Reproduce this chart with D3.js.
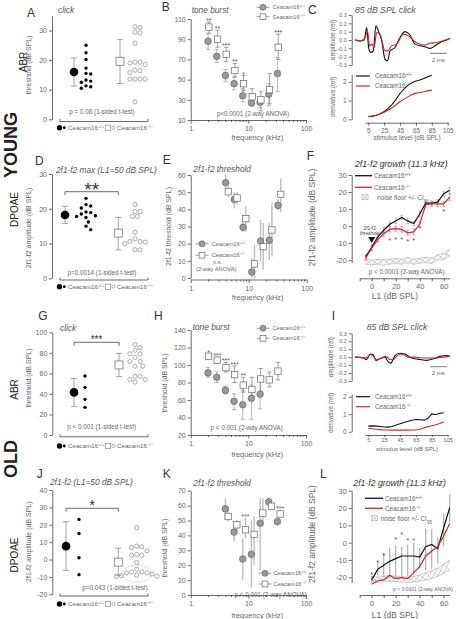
<!DOCTYPE html>
<html><head><meta charset="utf-8">
<script src="https://cdn.jsdelivr.net/npm/d3@7"></script>
<style>body{margin:0;background:#fff}svg{display:block}</style>
</head><body><svg id="c" width="456" height="619"></svg>
<script>
// ================= DATA =================
// A: young ABR click thresholds (dB SPL)
const A_wt = [25,22.5,20.2,17.3,15.5,15.3,13.3,12.9,12.5,11.3,11,10.5];
const A_ko = [31.3,31,29.4,29.2,25.7,19.3,19.3,19,18.5,16.6,16.4,15.8,13.6,13.6,13.6,13.6,5.9];
const A_mean = [16.0,19.6], A_lo = [11.2,12.1], A_hi = [20.7,27.0];
// D: young DPOAE max amplitude
const D_wt = [23,21.2,20.8,20.2,19.1,18.9,18.5,18,17.8,17.5,16.2,15,14];
const D_ko = [21.2,19.2,19.2,17.8,17.8,13.2,11.4,10.6,10.6,10.4,10.0,8.2,8.2];
const D_mean = [18.2,13.0], D_lo = [15.8,8.2], D_hi = [20.7,17.5];
// G: old ABR click thresholds
const G_wt = [57.5,46.4,34.7,26.9];
const G_ko = [88,85,82.5,79,79,75.5,71.5,71.5,67,67,57,57,54,54,51.5];
const G_mean = [41.5,68.2], G_lo = [27.6,56.8], G_hi = [54.9,79.5];
// J: old DPOAE amplitude
const J_wt = [23.1,15,1,-8.7];
const J_ko = [18.3,7.7,7.3,6.9,5,2.9,2.5,2.5,-1.7,-5.6,-7.1,-7.1,-7.7,-7.7,-8.3,-9.3,-9.6,-9.6,-9.0];
const J_mean = [7.7,-1.5], J_lo = [-6.2,-9.0], J_hi = [21.7,6.5];

// B / H: tone-burst ABR thresholds
const TB_freq = [2,2.83,4,5.66,8,11.3,16,22.6,32];
const B_wt = [88,73,54,46,34,27,27.5,35.5,56];
const B_wt_lo = [80,67,48,40,28,24,22,24,38];
const B_wt_hi = [95,80,60,52,41,30,32,46,72];
const B_ko = [102,90,75,59,46,33,30,40,82];
const B_ko_lo = [96,82,68,53,39,24,19,26,70];
const B_ko_hi = [107,99,82,66,54,41,38,56,95];
const B_sig = ["**","**","***","**","*","","","","***"];
const H_wt = [91,86,71,58.5,54.5,62,66.5];
const H_wt_lo = [86,80,67,49,38,38,50];
const H_wt_hi = [97,92,76,67,71,77,84];
const H_ko = [110,105.5,97,89,77,72,84,83,93];
const H_ko_lo = [107,102,92,80,69,64,70,75,83];
const H_ko_hi = [113,109,103,99,86,86,96,92,103];
const H_sig = ["*","***","***","***","**","","","",""];

// E / K: DPOAE thresholds
const DP_freq = [4,5.66,8,11.3,16,22.6,32];
const E_wt = [55.5,45.8,29.5,3.5,21.5,22,42.3];
const E_wt_lo = [52,40.5,27,0,9.5,10.5,39.5];
const E_wt_hi = [60,50,32.5,11.5,34,32,46];
const E_ko = [50.3,46.6,34.6,8.2,18.3,28,48.7];
const E_ko_lo = [47,43,27,0,5,12.5,38.5];
const E_ko_hi = [53.5,50,42,19.5,32,43.5,58];
const K_wt = [57.8,42.2,24.2,27.3,48.2,62.5,49.3];
const K_wt_lo = [51,36,10,5,17,59.5,46.5];
const K_wt_hi = [65,48,38,50,65,65.5,52];
const K_ko = [52.7,47.1,43.8,40.7,55,59.6,54.4];
const K_ko_lo = [49.5,43.5,38,20,46,57.5,52];
const K_ko_hi = [56,50.5,52,53,65,61.5,57];
const K_sig = ["","","***","","","","***"];

// C / I: click waveforms (time ms, amplitude rel) and derivative vs level
const C_tW = [0,0.6,1.1,1.4,1.65,1.9,2.2,2.5,2.85,3.2,3.6,3.9,4.2,4.8,5.4,6.0,6.6,7.2,7.8,8.4,9.0,9.6,10.2,11.0,11.4];
const C_vW = [0,-0.01,0,0.15,-0.1,-0.15,-0.13,0.17,0.1,-0.01,-0.23,-0.25,-0.13,-0.09,0.03,0.1,0.06,-0.05,-0.07,-0.08,-0.1,-0.07,-0.03,0,0.02];
const C_tK = [0,0.6,1.2,1.5,1.75,2.0,2.3,2.6,3.0,3.6,3.9,4.4,5.0,5.8,6.4,7.2,7.8,8.4,9.0,9.8,10.6,11.4];
const C_vK = [0,-0.01,0.02,0.11,-0.07,-0.05,-0.09,0.09,0.07,-0.13,-0.13,-0.07,-0.05,0.07,0.05,-0.02,-0.05,-0.06,-0.04,-0.03,-0.01,0.02];
const C_lvl = [5,10,15,20,25,30,35,40,45,50,55,60,65,70,75,80,85];
const C_dW = [0.15,0.17,0.22,0.3,0.42,0.58,0.8,1.08,1.38,1.62,1.83,1.96,2.05,2.1,2.18,2.28,2.36];
const C_dK = [0.15,0.17,0.21,0.28,0.38,0.5,0.62,0.78,0.95,1.08,1.2,1.32,1.4,1.43,1.47,1.52,1.56];
const I_tW = [0,1.0,1.4,1.8,2.2,2.5,3.0,3.6,4.0,4.3,4.8,5.4,6.0,6.6,7.2,7.8,8.6,9.4,10.2,11.0,11.4];
const I_vW = [0,-0.01,-0.03,0.04,0.03,-0.04,-0.02,0,-0.06,-0.075,0.02,0.05,0.04,0,-0.02,-0.03,-0.04,-0.02,0.01,0.02,0.01];
const I_tK = [0,1.4,1.8,2.2,2.6,3.2,3.7,4.2,4.6,5.2,5.8,6.4,7.2,8.0,8.8,9.6,10.6,11.4];
const I_vK = [0,-0.01,0.03,0.01,-0.03,-0.01,0.01,-0.03,-0.03,0.03,0.03,0,0,-0.01,-0.01,-0.01,0,0.01];
const I_lvl = [5,10,15,20,25,30,35,40,45,50,55,60,65,70,75,80,85,90,95,100];
const I_dW = [0.32,0.33,0.32,0.3,0.27,0.26,0.3,0.38,0.45,0.52,0.6,0.65,0.7,0.68,0.66,0.75,1.02,0.98,1.05,1.08];
const I_dK = [0.2,0.17,0.14,0.12,0.1,0.1,0.09,0.09,0.09,0.09,0.09,0.1,0.1,0.14,0.22,0.28,0.34,0.4,0.47,0.55];

// F / L: DPOAE growth (11.3 kHz)
const F_L1 = [-5,0,5,10,15,20,25,30,35,40,45,50,55,60,65];
const F_wt = [-18,-12.5,-6.5,-2.5,1,3,5,3,1.5,7,13.5,13.5,14,19,21];
const F_wt_sem = [1.2,1.5,1.8,1.5,1.4,1.6,1.3,1.5,1.4,1.6,1.2,1.3,1.5,1.4,1.8];
const F_ko = [-19,-13,-8,-4.5,-2,-1.5,-2,-4,-3.5,1,12.5,13,13,13,17];
const F_ko_sem = [1.3,1.6,1.5,1.7,1.4,1.5,1.6,1.4,1.8,1.5,1.3,1.4,1.6,1.5,1.9];
const F_noise = [-21,-21.5,-21,-21.5,-21,-20.5,-21,-20,-21,-20.5,-20,-20.5,-18.5,-18,-15.5];
const F_noise_ci = [1.4,1.5,1.4,1.6,1.5,1.4,1.5,1.6,1.5,1.4,1.5,1.6,1.7,1.8,2];
const F_sigL1 = [15,20,25,30,35,40,60];
const F_sigY = [-7.5,-7,-7,-8,-7.5,-0.5,9.5];
const L_L1 = [0,5,10,15,20,25,30,35,40,45,50,55,60,65];
const L_wt = [-21.5,-15.4,-13,-10.8,-9.2,-7.7,-7.7,-7.7,-8.3,-2.3,-1,-3.5,8.6,20.2];
const L_wt_lo = [-23.5,-19,-20,-20.5,-21,-20.5,-19.5,-18,-15,-16,-15,-12,-2,12];
const L_wt_hi = [-19,-11,-6,-3,-1.5,-2.3,-1,0,-3,8,7.7,3,17,28];
const L_ko = [-24,-22,-21.5,-18.8,-20.8,-20.2,-20.8,-17.3,-13.8,-7.7,-4.8,-2.3,3.8,11];
const L_noise = [-21,-21.5,-21,-20.5,-21,-21,-21.5,-21,-20.5,-19.5,-18.5,-17,-15,-13];
const L_noise_ci = [1.5,1.6,1.5,1.7,1.5,1.6,1.5,1.6,1.8,2,2.2,2.4,2.6,2.8];
const L_sigL1 = [0,5,10,20,25,30,35];
const L_sigY = [-17.5,-10.5,-6.5,2.5,5.8,2.3,2.3];

// ================= DRAWING =================
const FONT = "'Liberation Sans', Arial, Helvetica, sans-serif";
const svg = d3.select("#c").attr("font-family", FONT);
const AX = "#444", TX = "#666", DK = "#333", GR = "#8a8a8a", RED = "#d0262b";

function T(x, y, s, o = {}) {
  const t = svg.append("text").attr("x", x).attr("y", y)
    .attr("font-size", o.fs || 7).attr("fill", o.fill || TX)
    .attr("text-anchor", o.a || "start");
  if (o.it) t.attr("font-style", "italic");
  if (o.b) t.attr("font-weight", "bold");
  if (o.rot) t.attr("transform", `rotate(-90,${x},${y})`);
  t.text(s);
  return t;
}
function Geno(x, y, sup, fs, anchor) {
  const t = svg.append("text").attr("x", x).attr("y", y).attr("font-size", fs).attr("fill", TX)
    .attr("text-anchor", anchor || "start");
  t.append("tspan").text("Ceacam16");
  t.append("tspan").attr("font-size", fs * 0.7).attr("baseline-shift", "super").text(sup);
  return t;
}
function styleAxis(ga, fs) {
  ga.attr("font-family", FONT).attr("font-size", fs);
  ga.select(".domain").attr("stroke", AX).attr("stroke-width", 0.8);
  ga.selectAll(".tick line").attr("stroke", AX).attr("stroke-width", 0.8);
  ga.selectAll(".tick text").attr("fill", TX);
}
function yAxis(x, scale, lo, hi, ticks, fs, fmt) {
  const s = scale.copy().domain([lo, hi]).range([scale(lo), scale(hi)]);
  const ax = d3.axisLeft(s).tickValues(ticks).tickSize(3).tickSizeOuter(0).tickPadding(2)
    .tickFormat(fmt || (d => String(d)));
  const ga = svg.append("g").attr("transform", `translate(${x},0)`).call(ax);
  styleAxis(ga, fs);
  return ga;
}
function xAxisLin(yPos, scale, lo, hi, ticks, labeled, fs, tsz, pad) {
  const s = scale.copy().domain([lo, hi]).range([scale(lo), scale(hi)]);
  const ax = d3.axisBottom(s).tickValues(ticks).tickSize(tsz || 3).tickSizeOuter(0).tickPadding(pad || 2.5)
    .tickFormat(d => labeled.includes(d) ? String(d) : "");
  const ga = svg.append("g").attr("transform", `translate(0,${yPos})`).call(ax);
  styleAxis(ga, fs);
  return ga;
}
function dodge(vals, y, r, cx, gap) {
  const d = 2 * r + gap, out = [];
  vals.map(v => ({ v, py: y(v) })).sort((a, b) => a.py - b.py).forEach(p => {
    for (let k = 0; k < 40; k++) {
      const off = (k % 2 ? 1 : -1) * Math.ceil(k / 2) * d / 2;
      const px = cx + off;
      if (out.every(q => (q.px - px) ** 2 + (q.py - p.py) ** 2 >= d * d * 0.98)) { out.push({ px, py: p.py }); break; }
    }
  });
  return out;
}

// ---- scatter panels (A, D, G, J) ----
function scatter(P, wt, ko, mean, lo, hi) {
  const y = d3.scaleLinear().domain(P.yd).range(P.yr);
  yAxis(P.ax, y, P.yd[0], P.yd[1], P.ticks, 7);
  svg.append("path").attr("d", `M${P.bx[0]},${P.by - 2.5}V${P.by}H${P.bx[1]}V${P.by - 2.5}`)
    .attr("fill", "none").attr("stroke", AX).attr("stroke-width", 0.8);
  [0, 1].forEach(i => {
    const x = P.mx[i];
    const e = svg.append("g").attr("stroke", GR).attr("stroke-width", 0.8);
    e.append("line").attr("x1", x).attr("x2", x).attr("y1", y(lo[i])).attr("y2", y(hi[i]));
    [lo[i], hi[i]].forEach(v => e.append("line").attr("x1", x - 3).attr("x2", x + 3).attr("y1", y(v)).attr("y2", y(v)));
  });
  svg.append("circle").attr("cx", P.mx[0]).attr("cy", y(mean[0])).attr("r", 4.3).attr("fill", "#000");
  svg.append("rect").attr("x", P.mx[1] - 4).attr("y", y(mean[1]) - 4).attr("width", 8).attr("height", 8)
    .attr("fill", "#fff").attr("stroke", "#777").attr("stroke-width", 0.8);
  dodge(wt, y, 1.7, P.dx[0], 1.3).forEach(p => svg.append("circle").attr("cx", p.px).attr("cy", p.py).attr("r", 1.7).attr("fill", "#000"));
  const kp = dodge(ko, y, 2.1, P.dx[1], 0.9);
  kp.forEach(p => svg.append("circle").attr("cx", p.px).attr("cy", p.py).attr("r", 2.1)
    .attr("fill", "none").attr("stroke", "#777").attr("stroke-width", 0.6));
  // legend
  const ly = P.ly;
  svg.append("circle").attr("cx", 59.5).attr("cy", ly).attr("r", 2.7).attr("fill", "#000");
  svg.append("circle").attr("cx", 64.3).attr("cy", ly).attr("r", 1.4).attr("fill", "#000");
  Geno(68, ly + 2.2, "+/+", 6.2);
  svg.append("rect").attr("x", 105.5).attr("y", ly - 2.6).attr("width", 5.2).attr("height", 5.2)
    .attr("fill", "#fff").attr("stroke", "#777").attr("stroke-width", 0.6);
  svg.append("circle").attr("cx", 113.5).attr("cy", ly).attr("r", 1.6).attr("fill", "none").attr("stroke", "#777").attr("stroke-width", 0.6);
  Geno(117, ly + 2.2, "\u2212/\u2212", 6.2);
  // titles
  T(P.letter[0], P.letter[1], P.L, { fs: 12, fill: DK });
  T(P.title[0], P.title[1], P.tt, { fs: 8.3, it: true, fill: "#555" });
  T(30.7, P.ylc, P.yl, { fs: 7, a: "middle", rot: true });
  T(P.p[0], P.p[1], P.pt, { fs: 6.3, a: "middle" });
  if (P.sig) {
    const by = P.sig.y;
    svg.append("path").attr("d", `M${P.mx[0]},${by + 3.5}V${by}H${P.mx[1]}V${by + 3.5}`)
      .attr("fill", "none").attr("stroke", AX).attr("stroke-width", 0.8);
    const fs = P.sig.fs;
    T((P.mx[0] + P.mx[1]) / 2, P.sig.cy + fs * 0.55, P.sig.s, { fs, a: "middle", fill: DK });
  }
  return { y, kp };
}

scatter({ yd: [0, 35], yr: [119.3, 15.7], ax: 52, ticks: [0, 10, 20, 30], bx: [60, 148], by: 121.5,
  mx: [74, 120], dx: [86, 135], ly: 127.7, letter: [27, 17], L: "A", title: [58, 12.7], tt: "click",
  ylc: 65, yl: "threshold (dB SPL)", p: [102, 114], pt: "p = 0.08 (1-sided t-test)" },
  A_wt, A_ko, A_mean, A_lo, A_hi);
scatter({ yd: [0, 30], yr: [278.3, 174], ax: 52, ticks: [0, 10, 20, 30], bx: [60, 148], by: 280,
  mx: [65, 118.3], dx: [86, 135], ly: 286.7, letter: [35, 165], L: "D", title: [56, 172.7], tt: "2f1-f2 max (L1=50 dB SPL)",
  ylc: 228, yl: "2f1-f2 amplitude (dB SPL)", p: [102, 275], pt: "p=0.0014 (1-sided t-test)",
  sig: { y: 191.7, cy: 186, s: "**", fs: 19 } },
  D_wt, D_ko, D_mean, D_lo, D_hi);
scatter({ yd: [0, 100], yr: [435, 332.3], ax: 52.3, ticks: [0, 20, 40, 60, 80, 100], bx: [60, 148], by: 436.8,
  mx: [74, 119], dx: [85, 135], ly: 446, letter: [38.3, 320], L: "G", title: [60, 330.7], tt: "click",
  ylc: 378, yl: "threshold (dB SPL)", p: [101.7, 429], pt: "p < 0.001 (1-sided t-test)",
  sig: { y: 342.3, cy: 337.8, s: "***", fs: 10 } },
  G_wt, G_ko, G_mean, G_lo, G_hi);
const jr = scatter({ yd: [-20, 40], yr: [594.3, 490], ax: 52.3, ticks: [-20, -10, 0, 10, 20, 30, 40], bx: [60, 148], by: 596,
  mx: [66, 118.3], dx: [79, 136.7], ly: 604, letter: [36.7, 478.3], L: "J", title: [50, 485], tt: "2f1-f2 (L1=50 dB SPL)",
  ylc: 541.7, yl: "2f1-f2 amplitude (dB SPL)", p: [115, 589.5], pt: "p=0.043 (1-sided t-test)",
  sig: { y: 508.3, cy: 502, s: "*", fs: 15 } },
  J_wt, J_ko, J_mean, J_lo, J_hi);
// dotted ellipse around the low-amplitude cluster in J
{
  const cl = jr.kp.filter(p => p.py > jr.y(-5));
  const cx = d3.mean(cl, p => p.px), cy = d3.mean(cl, p => p.py);
  svg.append("ellipse").attr("cx", cx).attr("cy", cy).attr("rx", 14.5).attr("ry", 8.5)
    .attr("fill", "none").attr("stroke", "#999").attr("stroke-width", 0.6).attr("stroke-dasharray", "1.2,1.2");
}

// ---- frequency panels (B, E, H, K) ----
function freqPanel(P, freq, wt, wlo, whi, ko, klo, khi, sig) {
  const x = d3.scaleLog().domain([1, 100]).range(P.xr);
  const y = d3.scaleLinear().domain(P.yd).range(P.yr);
  yAxis(P.xr[0], y, P.yd[0], P.yd[1], P.ticks, 7);
  const minor = [1,2,3,4,5,6,7,8,9,10,20,30,40,50,60,70,80,90,100];
  const ax = d3.axisBottom(x).tickValues(minor).tickSize(2).tickSizeOuter(0).tickPadding(4.5)
    .tickFormat(d => [1, 10, 100].includes(d) ? String(d) : "");
  const ga = svg.append("g").attr("transform", `translate(0,${P.xy})`).call(ax);
  styleAxis(ga, 7);
  ga.selectAll(".tick line").filter(d => [1, 10, 100].includes(d)).attr("y2", 3.5);
  const kx = f => x(f) + P.kdx;
  const eb = (xx, l, h, col) => {
    if (P.bars) {
      svg.append("line").attr("x1", xx).attr("x2", xx).attr("y1", y(l)).attr("y2", y(h))
        .attr("stroke", "#bdbdbd").attr("stroke-width", 1.4);
    } else {
      const g = svg.append("g").attr("stroke", col).attr("stroke-width", 0.7);
      g.append("line").attr("x1", xx).attr("x2", xx).attr("y1", y(l)).attr("y2", y(h));
      [l, h].forEach(v => g.append("line").attr("x1", xx - 2.2).attr("x2", xx + 2.2).attr("y1", y(v)).attr("y2", y(v)));
    }
  };
  ko.forEach((v, i) => eb(kx(freq[i]), klo[i], khi[i], "#777"));
  wt.forEach((v, i) => eb(x(freq[i]), wlo[i], whi[i], "#999"));
  wt.forEach((v, i) => svg.append("circle").attr("cx", x(freq[i])).attr("cy", y(v)).attr("r", 3.3)
    .attr("fill", "#9a9a9a").attr("stroke", "#555").attr("stroke-width", 0.6));
  ko.forEach((v, i) => svg.append("rect").attr("x", kx(freq[i]) - 3.2).attr("y", y(v) - 3.2)
    .attr("width", 6.4).attr("height", 6.4).attr("fill", "#fff").attr("stroke", "#666").attr("stroke-width", 0.7));
  if (sig) sig.forEach((s, i) => {
    if (!s) return;
    const top = Math.max(khi[i], i < whi.length ? whi[i] : -Infinity);
    T(kx(freq[i]), y(top) + 1, s, { fs: 7, a: "middle", fill: "#555" });
  });
  // legend
  const Lg = P.leg;
  [[Lg.y1, "c", "+/+"], [Lg.y2, "s", "\u2212/\u2212"]].forEach(([ly, m, sup]) => {
    svg.append("line").attr("x1", Lg.cx - 6.5).attr("x2", Lg.cx + 6.5).attr("y1", ly).attr("y2", ly)
      .attr("stroke", "#777").attr("stroke-width", 0.7);
    if (m === "c") svg.append("circle").attr("cx", Lg.cx).attr("cy", ly).attr("r", 3)
      .attr("fill", "#9a9a9a").attr("stroke", "#555").attr("stroke-width", 0.6);
    else svg.append("rect").attr("x", Lg.cx - 2.9).attr("y", ly - 2.9).attr("width", 5.8).attr("height", 5.8)
      .attr("fill", "#fff").attr("stroke", "#666").attr("stroke-width", 0.7);
    Geno(Lg.tx, ly + 2.1, sup, Lg.fs || 6.2);
  });
  T(P.letter[0], P.letter[1], P.L, { fs: 12, fill: DK });
  T(P.title[0], P.title[1], P.tt, { fs: 8.3, it: true, fill: "#555" });
  if (P.yl) T(P.ylx, P.ylc, P.yl, { fs: 7, a: "middle", rot: true });
  T((P.xr[0] + P.xr[1]) / 2 + 9, P.xlb, "frequency (kHz)", { fs: 7.3, a: "middle" });
  if (P.p) T(P.p[0], P.p[1], P.pt, { fs: 6.3, a: P.pa || "middle" });
  return { x, y };
}

freqPanel({ xr: [190.7, 306], yd: [10, 110], yr: [120, 19], ticks: [10, 30, 50, 70, 90, 110], xy: 120, kdx: 0.8,
  leg: { cx: 263, y1: 7.3, y2: 16.7, tx: 272.5, fs: 5.6 }, letter: [161.7, 10.5], L: "B", title: [191.7, 12.7], tt: "tone burst",
  xlb: 139.5, p: [253, 115.5], pt: "p<0.0001 (2-way ANOVA)" },
  TB_freq, B_wt, B_wt_lo, B_wt_hi, B_ko, B_ko_lo, B_ko_hi, B_sig);
freqPanel({ xr: [190.7, 306.7], yd: [0, 60], yr: [278, 175], ticks: [0, 10, 20, 30, 40, 50, 60], xy: 279.5, kdx: 2.7, bars: true,
  leg: { cx: 202, y1: 243.8, y2: 255.2, tx: 211.7, fs: 5.8 }, letter: [162.7, 163.5], L: "E", title: [193.3, 171.7], tt: "2f1-f2 threshold",
  yl: "2f1-f2 threshold (dB SPL)", ylx: 170.7, ylc: 226.5, xlb: 299.5 },
  DP_freq, E_wt, E_wt_lo, E_wt_hi, E_ko, E_ko_lo, E_ko_hi, null);
T(213, 264.3, "n.s.", { fs: 5.6 });
T(196, 270.5, "(2-way ANOVA)", { fs: 5.8 });
freqPanel({ xr: [190.7, 306], yd: [20, 140], yr: [435, 330], ticks: [20, 40, 60, 80, 100, 120, 140], xy: 435, kdx: 0.5,
  leg: { cx: 263, y1: 328.3, y2: 338.3, tx: 272.5, fs: 5.6 }, letter: [154, 320], L: "H", title: [192.7, 330], tt: "tone burst",
  yl: "threshold (dB SPL)", ylx: 167.3, ylc: 383, xlb: 457, p: [246.7, 430], pt: "p < 0.001 (2-way ANOVA)" },
  TB_freq, H_wt, H_wt_lo, H_wt_hi, H_ko, H_ko_lo, H_ko_hi, H_sig);
freqPanel({ xr: [190.7, 306], yd: [0, 70], yr: [595, 490.7], ticks: [0, 10, 20, 30, 40, 50, 60, 70], xy: 595, kdx: 2.7, bars: true,
  leg: { cx: 265, y1: 573.3, y2: 584, tx: 273.3, fs: 5.8 }, letter: [162.7, 478.3], L: "K", title: [193.3, 486], tt: "2f1-f2 threshold",
  yl: "threshold (dB SPL)", ylx: 167.3, ylc: 548, xlb: 618.3, p: [306.7, 597.3], pa: "end", pt: "p < 0.001 (2-way ANOVA)" },
  DP_freq, K_wt, K_wt_lo, K_wt_hi, K_ko, K_ko_lo, K_ko_hi, K_sig);

// ---- ABR waveform panels (C, I) ----
function abrPanel(P, tW, vW, tK, vK, lvl, dW, dK) {
  const t = d3.scaleLinear().domain([0, 11.4]).range([355, 450]);
  const a = d3.scaleLinear().domain([-0.3, 0.3]).range(P.ar);
  yAxis(351.7, a, -0.3, 0.3, [-0.3, -0.2, -0.1, 0, 0.1, 0.2, 0.3], 5.3, d => d.toFixed(1));
  const ln = d3.line().curve(d3.curveMonotoneX);
  svg.append("path").attr("d", ln(tW.map((v, i) => [t(v), a(vW[i])]))).attr("fill", "none").attr("stroke", "#111").attr("stroke-width", 1.1);
  svg.append("path").attr("d", ln(tK.map((v, i) => [t(v), a(vK[i])]))).attr("fill", "none").attr("stroke", RED).attr("stroke-width", 1.1);
  svg.append("line").attr("x1", t(P.sb[0])).attr("x2", t(P.sb[0] + 2)).attr("y1", a(P.sb[1])).attr("y2", a(P.sb[1]))
    .attr("stroke", "#555").attr("stroke-width", 0.8);
  T(t(P.sb[0] + 1), a(P.sb[1]) + 8.5, "2 ms", { fs: 6, a: "middle" });
  T(P.ylx, (P.ar[0] + P.ar[1]) / 2, "amplitude (rel)", { fs: 6.3, a: "middle", rot: true });
  // derivative
  const d = d3.scaleLinear().domain([0, 2]).range(P.dr);
  yAxis(351.7, d, 0, P.dTop, [0, 1, 2], 6.5);
  const lx = d3.scaleLinear().domain([5, 105]).range([368.3, 447.7]);
  xAxisLin(P.dxy, lx, 1, 105, [5, 25, 45, 65, 85, 105], [5, 25, 45, 65, 85, 105], P.tfs, P.tsz, P.tpad);
  const l2 = d3.line();
  svg.append("path").attr("d", l2(lvl.map((v, i) => [lx(v), d(dW[i])]))).attr("fill", "none").attr("stroke", "#111").attr("stroke-width", 1.1);
  svg.append("path").attr("d", l2(lvl.map((v, i) => [lx(v), d(dK[i])]))).attr("fill", "none").attr("stroke", RED).attr("stroke-width", 1.1);
  T(P.ylx, (d(0) + d(P.dTop)) / 2, "derivative (rel)", { fs: 6.3, a: "middle", rot: true });
  T(407, P.xlb, "stimulus level (dB SPL)", { fs: P.xfs, a: "middle" });
  // legend
  [[P.lg[0], "#111", "+/+"], [P.lg[1], RED, "\u2212/\u2212"]].forEach(([ly, c, s]) => {
    svg.append("line").attr("x1", 356).attr("x2", 370).attr("y1", ly).attr("y2", ly).attr("stroke", c).attr("stroke-width", 1.2);
    Geno(375, ly + 2.2, s, 6.3);
  });
  T(P.letter[0], P.letter[1], P.L, { fs: 12, fill: DK });
  T(P.title[0], P.title[1], "85 dB SPL click", { fs: 8.7, it: true, fill: "#555" });
}
abrPanel({ ar: [65, 15], sb: [9, -0.16], ylx: 335, dr: [119.3, 81.9], dTop: 2.4, dxy: 122.7, xlb: 139.5,
  tfs: 6.3, tsz: 3, tpad: 2.5, xfs: 6.5,
  lg: [76, 86], letter: [308, 13.5], L: "C", title: [355, 12.7] },
  C_tW, C_vW, C_tK, C_vK, C_lvl, C_dW, C_dK);
abrPanel({ ar: [381, 333.3], sb: [9, -0.12], ylx: 333.3, dr: [431.7, 396.7], dTop: 2.15, dxy: 435, xlb: 451,
  tfs: 5.6, tsz: 2, tpad: 1.2, xfs: 6,
  lg: [396.7, 406.7], letter: [331.7, 320], L: "I", title: [366.7, 330] },
  I_tW, I_vW, I_tK, I_vK, I_lvl, I_dW, I_dK);

// ---- DPOAE growth panels (F, L) ----
function growthPanel(P, L1, wt, wlo, whi, ko, klo, khi, noise, ci, sigX, sigY) {
  const x = d3.scaleLinear().domain([0, 20]).range([371.7, 395.7]);
  const y = d3.scaleLinear().domain([-20, 30]).range(P.yr);
  yAxis(351.7, y, P.ymin, 30, [-20, -10, 0, 10, 20, 30], 7.3);
  xAxisLin(P.xy, x, -10, 65, [-10, 0, 10, 20, 30, 40, 50, 60], [0, 20, 40, 60], 7.5);
  // noise floor band
  const ng = svg.append("g").attr("stroke", "#9a9a9a").attr("stroke-width", 0.5).attr("fill", "none");
  const ln = d3.line();
  ng.append("path").attr("d", ln(L1.map((v, i) => [x(v), y(noise[i] + ci[i])])));
  ng.append("path").attr("d", ln(L1.map((v, i) => [x(v), y(noise[i] - ci[i])])));
  for (let i = 0; i < L1.length - 1; i++) {
    ng.append("line").attr("x1", x(L1[i])).attr("y1", y(noise[i] - ci[i])).attr("x2", x(L1[i + 1])).attr("y2", y(noise[i + 1] + ci[i + 1]));
    ng.append("line").attr("x1", x(L1[i])).attr("y1", y(noise[i] + ci[i])).attr("x2", x(L1[i + 1])).attr("y2", y(noise[i + 1] - ci[i + 1]));
  }
  // error bars
  const eb = (xx, l, h, w, col) => {
    const g = svg.append("g").attr("stroke", col).attr("stroke-width", w);
    g.append("line").attr("x1", xx).attr("x2", xx).attr("y1", y(l)).attr("y2", y(h));
    if (!P.bars) [l, h].forEach(v => g.append("line").attr("x1", xx - 1.3).attr("x2", xx + 1.3).attr("y1", y(v)).attr("y2", y(v)));
  };
  L1.forEach((v, i) => eb(x(v), wlo[i], whi[i], P.bars ? 1.2 : 0.6, P.bars ? "#b0b0b0" : "#999"));
  if (klo) L1.forEach((v, i) => eb(x(v), klo[i], khi[i], 0.6, "#d58"));
  svg.append("path").attr("d", ln(L1.map((v, i) => [x(v), y(wt[i])]))).attr("fill", "none").attr("stroke", "#111").attr("stroke-width", 1.2);
  svg.append("path").attr("d", ln(L1.map((v, i) => [x(v), y(ko[i])]))).attr("fill", "none").attr("stroke", RED).attr("stroke-width", 1.2);
  sigX.forEach((v, i) => T(x(v), y(sigY[i]) + 4, "*", { fs: 7.5, a: "middle", fill: "#555" }));
  // legend
  [[P.lg.y[0], "#111", "+/+"], [P.lg.y[1], RED, "\u2212/\u2212"]].forEach(([ly, c, s]) => {
    svg.append("line").attr("x1", P.lg.x0).attr("x2", P.lg.x1).attr("y1", ly).attr("y2", ly).attr("stroke", c).attr("stroke-width", 1.3);
    Geno(P.lg.tx, ly + 2.2, s, 6.3);
  });
  const ny = P.lg.y[2], nb = P.lg.nb;
  const g = svg.append("g").attr("stroke", "#999").attr("stroke-width", 0.5).attr("fill", "none");
  g.append("rect").attr("x", nb).attr("y", ny - 2.5).attr("width", 6).attr("height", 5);
  g.append("path").attr("d", `M${nb},${ny - 2.5}L${nb + 6},${ny + 2.5}M${nb},${ny + 2.5}L${nb + 6},${ny - 2.5}`);
  const nt = svg.append("text").attr("x", P.lg.nt).attr("y", ny + 2.2).attr("font-size", 6.3).attr("fill", TX);
  nt.append("tspan").text("noise floor +/- CI");
  nt.append("tspan").attr("font-size", 4.5).attr("baseline-shift", "sub").text("95");
  T(315, (y(-20) + y(30)) / 2, "2f1-f2 amplitude (dB SPL)", { fs: 8.5, a: "middle", rot: true });
  T(395, P.xlb, "L1 (dB SPL)", { fs: 8.5, a: "middle" });
  T(P.p[0], P.p[1], P.pt, { fs: P.pfs, a: "middle" });
  T(P.letter[0], P.letter[1], P.L, { fs: 12, fill: DK });
  T(P.title[0], P.title[1], "2f1-f2 growth (11.3 kHz)", { fs: 8.7, it: true, fill: "#333" });
  return { x, y };
}
const fr = growthPanel({ yr: [260, 175], ymin: -21.5, xy: 278.3, xlb: 299,
  lg: { y: [175.7, 187.3, 197.3], x0: 355, x1: 372, tx: 374, nb: 362, nt: 377.3 },
  p: [406.7, 274], pfs: 6.3, pt: "p < 0.0001 (2-way ANOVA)", letter: [306.7, 160], L: "F", title: [355, 167.3] },
  F_L1, F_wt, F_wt.map((v, i) => v - F_wt_sem[i]), F_wt.map((v, i) => v + F_wt_sem[i]),
  F_ko, F_ko.map((v, i) => v - F_ko_sem[i]), F_ko.map((v, i) => v + F_ko_sem[i]),
  F_noise, F_noise_ci, F_sigL1, F_sigY);
// threshold marker in F
T(fr.x(0) - 2, 229.5, "2f1-f2", { fs: 4.8, a: "middle", fill: "#444" });
T(fr.x(0) - 2, 235, "threshold", { fs: 4.8, a: "middle", fill: "#444" });
svg.append("path").attr("d", `M${fr.x(0) - 3.5},${237}L${fr.x(0) + 3.5},${237}L${fr.x(0)},${243}Z`).attr("fill", "#111");
growthPanel({ yr: [577.3, 490.7], ymin: -23, xy: 595, xlb: 617.5, bars: true,
  lg: { y: [498.3, 508.3, 518.3], x0: 365, x1: 383, tx: 385, nb: 371.5, nt: 380.5 },
  p: [423, 590.5], pfs: 5, pt: "p < 0.0001 (2-way ANOVA)", letter: [320, 478.3], L: "L", title: [353.3, 486] },
  L_L1, L_wt, L_wt_lo, L_wt_hi, L_ko, null, null, L_noise, L_noise_ci, L_sigL1, L_sigY);

// ---- row / group labels ----
T(16.5, 145, "YOUNG", { fs: 18, b: true, a: "middle", rot: true, fill: "#222" });
T(16.5, 459, "OLD", { fs: 18, b: true, a: "middle", rot: true, fill: "#222" });
T(27, 62, "ABR", { fs: 10, a: "middle", rot: true, fill: "#222" });
T(18, 209.5, "DPOAE", { fs: 10, a: "middle", rot: true, fill: "#222" });
T(18, 389.5, "ABR", { fs: 10, a: "middle", rot: true, fill: "#222" });
T(18, 555, "DPOAE", { fs: 10, a: "middle", rot: true, fill: "#222" });
</script></body></html>
